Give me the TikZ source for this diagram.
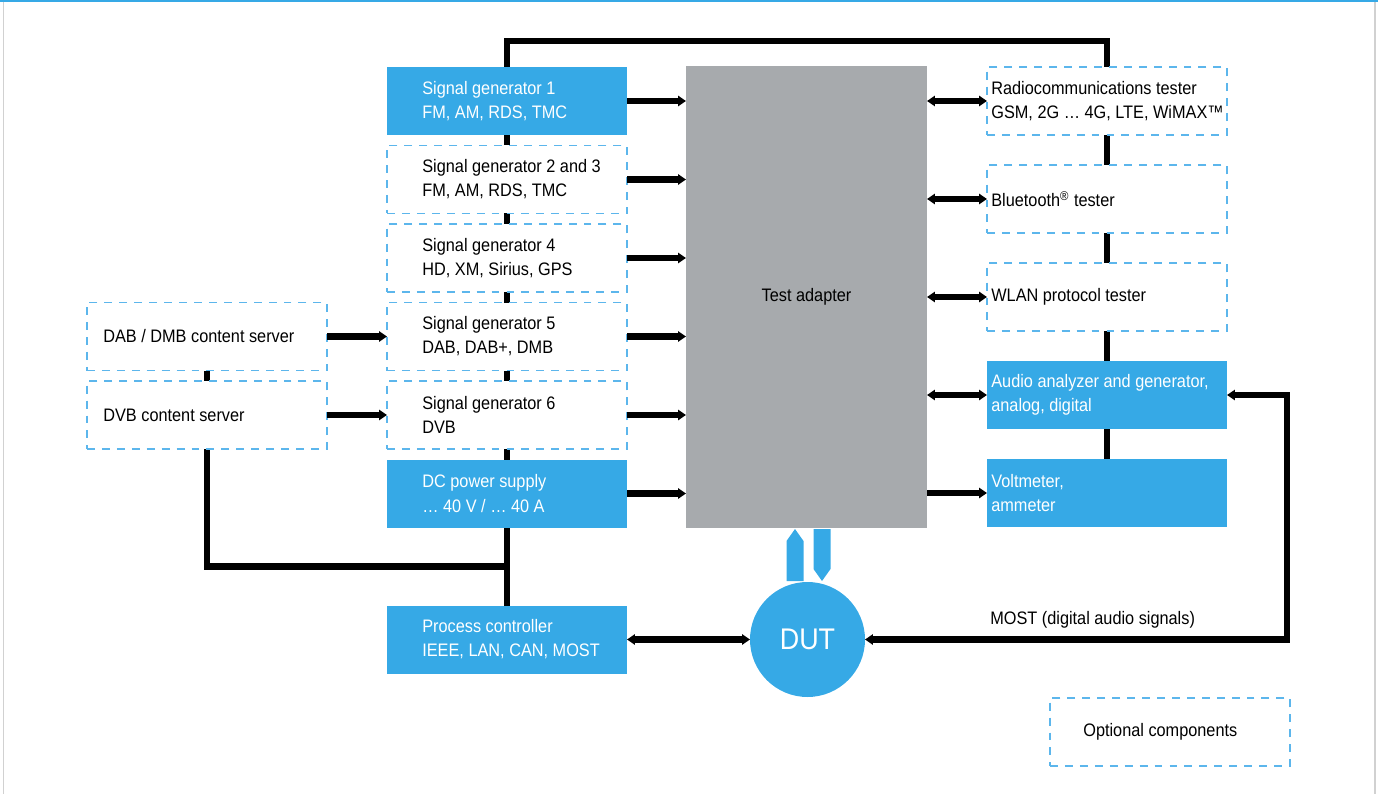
\documentclass[tikz,border=0pt]{standalone}
\usepackage{fontspec}
\setmainfont{Liberation Sans}[FakeStretch=0.9]
\usepackage{tikz}
\usetikzlibrary{arrows.meta,backgrounds,calc,positioning}
\definecolor{rsblue}{RGB}{54,169,230}
\definecolor{rsdash}{RGB}{92,182,236}
\definecolor{adaptergray}{RGB}{167,170,173}
\tikzstyle{mainbox}=[
	rectangle,
	fill=rsblue,
	inner sep=0,
	outer sep=0,
	minimum width=4.8cm,
	minimum height=1.36cm]
\tikzstyle{optbox}=[
	rectangle,
	draw=rsdash,
	line width=0.9pt,
	dash pattern=on 4.5pt off 4pt,
	fill=white,
	inner sep=0,
	outer sep=0,
	minimum width=4.8cm,
	minimum height=1.36cm]
\tikzstyle{adapter}=[
	rectangle,
	fill=adaptergray,
	outer sep=0,
	minimum width=4.82cm,
	minimum height=9.24cm]
\tikzstyle{whitetext}=[
	align=left,
	inner sep=0,
	text=white,
	font=\fontsize{10.3}{13.7}\selectfont]
\tikzstyle{blacktext}=[
	align=left,
	inner sep=0,
	text=black,
	font=\fontsize{10.3}{13.7}\selectfont]
\tikzstyle{bus}=[
	line width=3.8pt]
\tikzstyle{arr}=[
	line width=3.8pt,
	-{Triangle[length=4.5pt,width=5.8pt]}]
\tikzstyle{darr}=[
	line width=3.8pt,
	{Triangle[length=4.5pt,width=5.8pt]}-{Triangle[length=4.5pt,width=5.8pt]}]

\begin{document}
\begin{tikzpicture}
	\useasboundingbox (0,0) rectangle (27.56,-15.88);
	% frame
	\draw[rsblue,line width=1.2pt] (0,-0.02) -- (27.56,-0.02);
	\draw[black!18,line width=1pt] (0.07,-0.04) -- (0.07,-15.88);
	\draw[black!18,line width=1pt] (27.5,-0.04) -- (27.5,-15.88);
	\begin{scope}[node distance=.21]
		\node[mainbox,anchor=north west]	(sg1)	at (7.74,-1.34)	{};
		\node[optbox]	(sg2)	[below=of sg1]	{};
		\node[optbox]	(sg4)	[below=of sg2]	{};
		\node[optbox]	(sg5)	[below=of sg4]	{};
		\node[optbox]	(sg6)	[below=of sg5]	{};
		\node[mainbox]	(dc)	[below=of sg6]	{};
		\node[mainbox,node distance=1.56]	(pc)	[below=of dc]	{};
	\end{scope}
	\node[whitetext,right=.7 of sg1.west]	(sg1txt)	{Signal generator 1\\FM, AM, RDS, TMC};
	\node[blacktext,right=.7 of sg2.west]	(sg2txt)	{Signal generator 2 and 3\\FM, AM, RDS, TMC};
	\node[blacktext,right=.7 of sg4.west]	(sg4txt)	{Signal generator 4\\HD, XM, Sirius, GPS};
	\node[blacktext,right=.7 of sg5.west]	(sg5txt)	{Signal generator 5\\DAB, DAB+, DMB};
	\node[blacktext,right=.7 of sg6.west]	(sg6txt)	{Signal generator 6\\DVB};
	\node[whitetext,right=.7 of dc.west]	(dctxt)	{DC power supply\\… 40 V / … 40 A};
	\node[whitetext,right=.7 of pc.west]	(pctxt)	{Process controller\\IEEE, LAN, CAN, MOST};
	% content servers
	\begin{scope}[node distance=1.2]
		\node[optbox]	(dab)	[left=of sg5]	{};
		\node[optbox]	(dvb)	[left=of sg6]	{};
	\end{scope}
	\node[blacktext,right=.32 of dab.west]	(dabtxt)	{DAB / DMB content server};
	\node[blacktext,right=.32 of dvb.west]	(dvbtxt)	{DVB content server};
	% test adapter
	\node[adapter,anchor=north west,font=\fontsize{10.3}{13.7}\selectfont]	(ta)	at (13.72,-1.32)	{Test adapter};
	% testers
	\begin{scope}[node distance=.6]
		\node[optbox,anchor=north west]	(radio)	at (19.74,-1.34)	{};
		\node[optbox]	(bt)	[below=of radio]	{};
		\node[optbox]	(wlan)	[below=of bt]	{};
		\node[mainbox]	(audio)	[below=of wlan]	{};
		\node[mainbox]	(volt)	[below=of audio]	{};
	\end{scope}
	\node[blacktext,right=.08 of radio.west]	(radiotxt)	{Radiocommunications tester\\GSM, 2G … 4G, LTE, WiMAX™};
	\node[blacktext,right=.08 of bt.west]	(bttxt)	{Bluetooth\textsuperscript{®} tester};
	\node[blacktext,right=.08 of wlan.west]	(wlantxt)	{WLAN protocol tester};
	\node[whitetext,right=.08 of audio.west]	(audiotxt)	{Audio analyzer and generator,\\analog, digital};
	\node[whitetext,right=.08 of volt.west]	(volttxt)	{Voltmeter,\\ammeter};
	% DUT
	\node[circle,fill=rsblue,minimum size=2.3cm,inner sep=0,outer sep=0,text=white,font=\fontsize{17}{20}\selectfont,right=2.46 of pc]	(dut)	{DUT};
	\fill[rsblue] ([shift={(-0.42,0.02)}]dut.north) -- ++(0,0.8) -- ++(0.17,0.24) -- ++(0.17,-0.24) -- ++(0,-0.8) -- cycle;
	\fill[rsblue] ([shift={(0.12,1.06)}]dut.north) -- ++(0,-0.8) -- ++(0.17,-0.24) -- ++(0.17,0.24) -- ++(0,0.8) -- cycle;
	% legend
	\node[optbox,anchor=north west]	(legend)	at (21.0,-13.96)	{};
	\node[blacktext,right=.66 of legend.west]	(legendtxt)	{Optional components};
	% buses behind the boxes
	\begin{scope}[on background layer]
		\draw[bus] (sg1.north) -- ++(0,.52) -| (radio.north);
		\draw[bus] (sg1.south) -- (pc.north);
		\draw[bus] (radio.south) -- (volt.north);
		\draw[bus] (dab.center) -- (dvb.south) |- ($(dc.south)!.5!(pc.north)$);
	\end{scope}
	% signal paths
	\foreach \src in {sg1,sg2,sg4,sg5,sg6,dc}
		\draw[arr] (\src.east) -- (\src.east -| ta.west);
	\draw[arr] (dab.east) -- (sg5.west);
	\draw[arr] (dvb.east) -- (sg6.west);
	\foreach \dst in {radio,bt,wlan,audio}
		\draw[darr] (\dst.west -| ta.east) -- (\dst.west);
	\draw[arr] (volt.west -| ta.east) -- (volt.west);
	\draw[darr] (pc.east) -- (dut.west);
	\draw[darr] (dut.east) -| ([xshift=1.2cm]audio.east) -- (audio.east);
	\node[blacktext,anchor=base west]	(most)	at ([shift={(0.06,0.3)}]volt.west |- dut.east)	{MOST (digital audio signals)};
\end{tikzpicture}
\end{document}
